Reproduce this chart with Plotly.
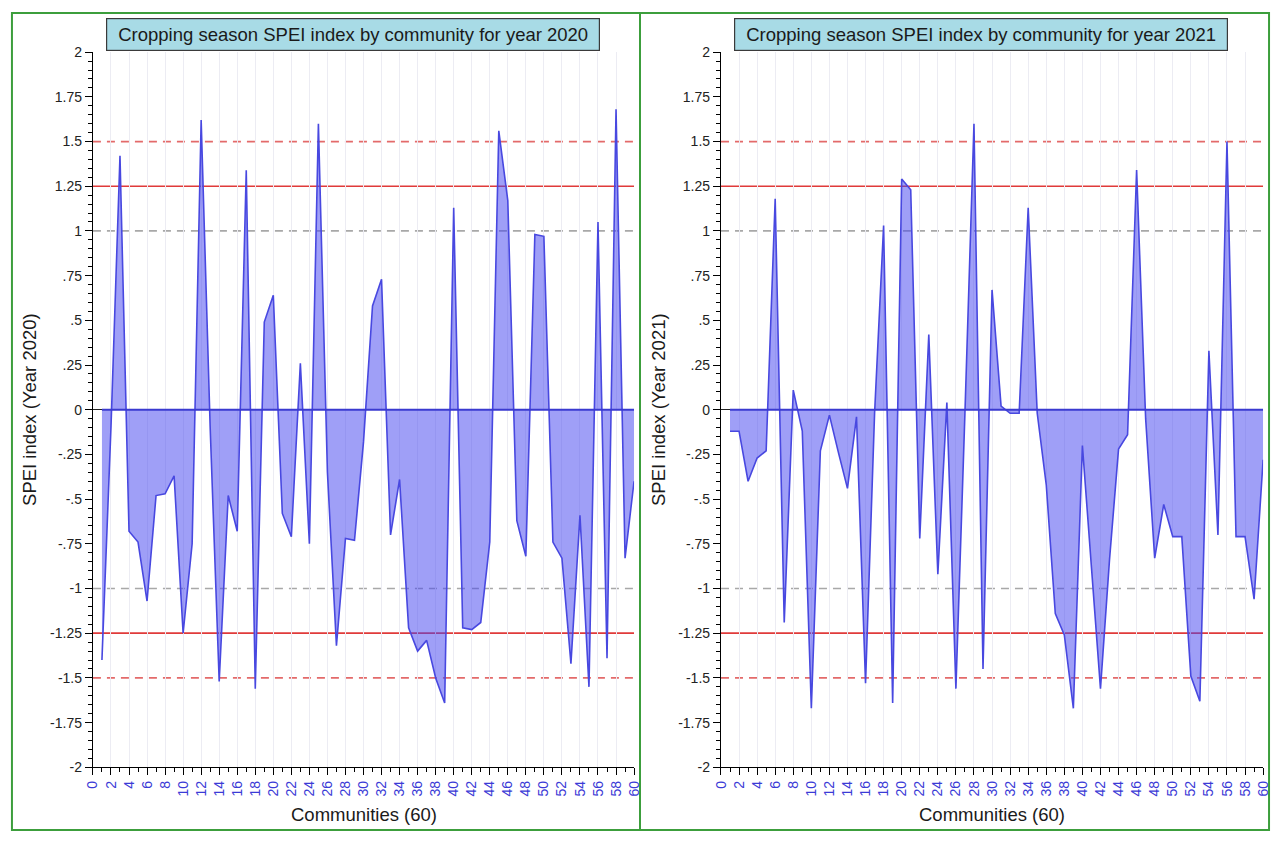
import plotly.graph_objects as go

# ---- data ----
communities = list(range(1, 61))

spei_2020 = [
    -1.40, -0.10, 1.42, -0.68, -0.74, -1.07, -0.48, -0.47, -0.37, -1.25,
    -0.75, 1.62, -0.10, -1.52, -0.48, -0.68, 1.34, -1.56, 0.49, 0.64,
    -0.58, -0.71, 0.26, -0.75, 1.60, -0.35, -1.32, -0.72, -0.73, -0.18,
    0.58, 0.73, -0.70, -0.39, -1.22, -1.35, -1.29, -1.50, -1.64, 1.13,
    -1.22, -1.23, -1.19, -0.74, 1.56, 1.17, -0.62, -0.82, 0.98, 0.97,
    -0.74, -0.83, -1.42, -0.59, -1.55, 1.05, -1.39, 1.68, -0.83, -0.40,
]

spei_2021 = [
    -0.12, -0.12, -0.40, -0.27, -0.23, 1.18, -1.19, 0.11, -0.12, -1.67,
    -0.23, -0.03, -0.24, -0.44, -0.04, -1.53, -0.02, 1.03, -1.64, 1.29,
    1.23, -0.72, 0.42, -0.92, 0.04, -1.56, -0.02, 1.60, -1.45, 0.67,
    0.02, -0.02, -0.02, 1.13, -0.02, -0.42, -1.14, -1.26, -1.67, -0.20,
    -0.88, -1.56, -0.84, -0.22, -0.14, 1.34, -0.05, -0.83, -0.53, -0.71,
    -0.71, -1.49, -1.63, 0.33, -0.70, 1.50, -0.71, -0.71, -1.06, -0.28,
]

years = [2020, 2021]
series = [spei_2020, spei_2021]

y_tickvals = [2, 1.75, 1.5, 1.25, 1, 0.75, 0.5, 0.25, 0,
              -0.25, -0.5, -0.75, -1, -1.25, -1.5, -1.75, -2]
y_ticktext = ["2", "1.75", "1.5", "1.25", "1", ".75", ".5", ".25", "0",
              "-.25", "-.5", "-.75", "-1", "-1.25", "-1.5", "-1.75", "-2"]
x_tickvals = list(range(0, 61, 2))

# reference lines: (level, colour, dash)
ref_lines = [
    (1.5, "#e36a6a", "8px,6px"), (-1.5, "#e36a6a", "8px,6px"),
    (1.25, "#e03a3a", "solid"), (-1.25, "#e03a3a", "solid"),
    (1.0, "#a8a8a8", "8px,6px"), (-1.0, "#a8a8a8", "8px,6px"),
]

FONT = "Liberation Sans, Arial, sans-serif"
W, H = 1280, 843

# pixel layout of the two panels
x_domains = [(86 / W, 634 / W), (722 / W, 1271 / W)]
y_domain = (1 - 774 / H, 1 - 45 / H)
panel_px = [(4, 640), (640, 1277)]

fig = go.Figure()
layout_axes = {}
shapes = []
annotations = []

for i, (yr, vals) in enumerate(zip(years, series)):
    n = "" if i == 0 else str(i + 1)
    xa, ya = "x" + n, "y" + n

    fig.add_trace(go.Scatter(
        x=communities, y=vals, xaxis=xa, yaxis=ya,
        mode="lines", fill="tozeroy",
        fillcolor="rgba(70,70,240,0.52)",
        line=dict(color="#4848e0", width=1.6),
        showlegend=False,
        hovertemplate="Community %{x}<br>SPEI %{y}<extra></extra>",
    ))

    layout_axes["xaxis" + n] = dict(
        domain=x_domains[i], anchor=ya, range=[0, 60],
        tickmode="array", tickvals=x_tickvals, tickangle=-90,
        tickfont=dict(family=FONT, size=14, color="#3b3bd6"),
        ticks="outside", ticklen=7, tickcolor="black",
        minor=dict(dtick=1, ticks="outside", ticklen=4, tickcolor="black", showgrid=False),
        showline=True, linecolor="black", linewidth=1.2,
        showgrid=True, gridcolor="#ececf3", gridwidth=1,
        zeroline=False, fixedrange=True,
    )
    layout_axes["yaxis" + n] = dict(
        domain=y_domain, anchor=xa, range=[-2, 2],
        tickmode="array", tickvals=y_tickvals, ticktext=y_ticktext,
        tickfont=dict(family=FONT, size=14, color="#222"),
        ticks="outside", ticklen=7, tickcolor="black",
        minor=dict(dtick=0.05, ticks="outside", ticklen=4, tickcolor="black", showgrid=False),
        showline=True, linecolor="black", linewidth=1.2,
        showgrid=False, zeroline=True, zerolinecolor="#222", zerolinewidth=1,
        fixedrange=True,
    )

    for level, col, dash in ref_lines:
        shapes.append(dict(type="line", xref=xa, yref=ya, x0=0, x1=60,
                           y0=level, y1=level, layer="below",
                           line=dict(color=col, width=1.7, dash=dash)))
    # base line of the area
    shapes.append(dict(type="line", xref=xa, yref=ya,
                       x0=communities[0], x1=communities[-1], y0=0, y1=0,
                       line=dict(color="#3a3ad0", width=2)))

    # green panel frame
    px0, px1 = panel_px[i]
    shapes.append(dict(type="rect", xref="paper", yref="paper",
                       x0=px0 / W, x1=px1 / W, y0=1 - 838 / H, y1=1 - 5 / H,
                       line=dict(color="#3c9e3c", width=2), fillcolor="rgba(0,0,0,0)"))

    cx = (x_domains[i][0] + x_domains[i][1]) / 2
    annotations.append(dict(
        text=f"Cropping season SPEI index by community for year {yr}",
        xref="paper", yref="paper", x=cx - 11 / W, y=1 - 27.5 / H,
        xanchor="center", yanchor="middle", showarrow=False,
        font=dict(family=FONT, size=18.5, color="#1a1a1a"),
        bgcolor="#a8dbe6", bordercolor="#3a3a3a", borderwidth=1.2,
        borderpad=3, width=486, height=25,
    ))
    annotations.append(dict(
        text=f"SPEI index (Year {yr})", textangle=-90,
        xref="paper", yref="paper", x=(22 + panel_px[i][0] - 4) / W, y=1 - 409 / H,
        xanchor="center", yanchor="middle", showarrow=False,
        font=dict(family=FONT, size=18.5, color="#1a1a1a"),
    ))
    annotations.append(dict(
        text="Communities (60)",
        xref="paper", yref="paper", x=cx, y=1 - 822 / H,
        xanchor="center", yanchor="middle", showarrow=False,
        font=dict(family=FONT, size=18.5, color="#1a1a1a"),
    ))

fig.update_layout(
    autosize=True,
    margin=dict(l=0, r=0, t=0, b=0),
    paper_bgcolor="white", plot_bgcolor="white",
    font=dict(family=FONT),
    shapes=shapes, annotations=annotations,
    **layout_axes,
)

# figure fills the window exactly; no page margin, no scrollbars, no modebar
fig.write_html(
    "out.html",
    default_width="100vw", default_height="100vh",
    config={"displayModeBar": False, "responsive": True},
    post_script="document.body.style.margin='0';document.body.style.overflow='hidden';"
                "Plotly.Plots.resize(document.getElementById('{plot_id}'));",
)
